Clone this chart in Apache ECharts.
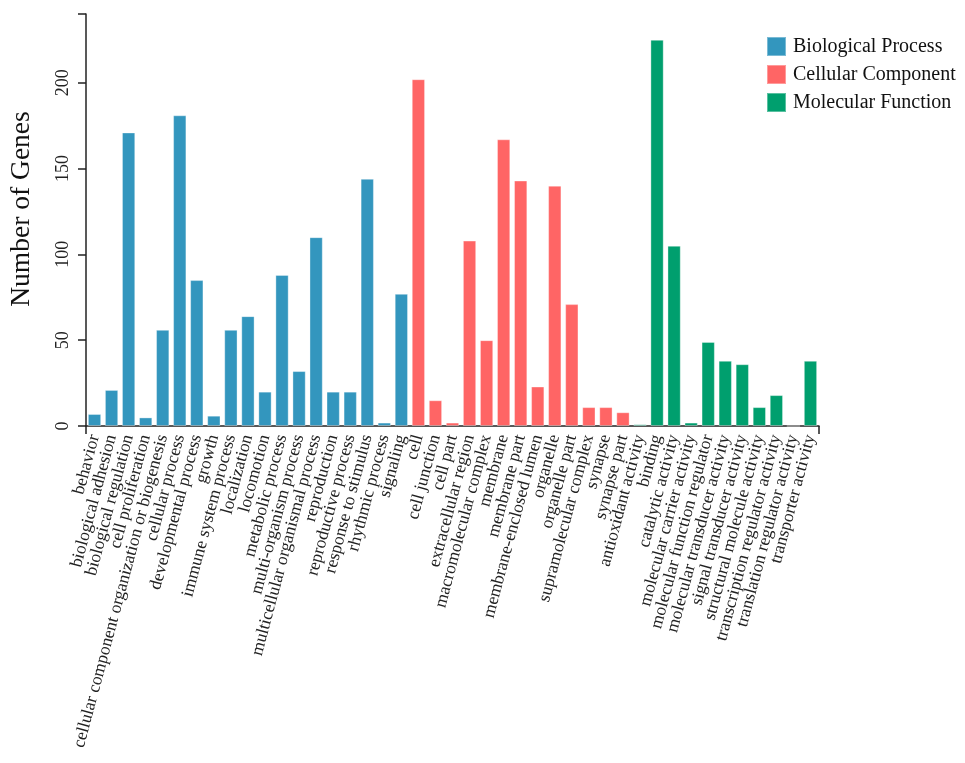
<!DOCTYPE html>
<html>
<head>
<meta charset="utf-8">
<script src="https://cdn.jsdelivr.net/npm/echarts@6/dist/echarts.min.js"></script>
<style>
html,body{margin:0;padding:0;background:#fff;}
#chart{width:965px;height:763px;}
</style>
</head>
<body>
<div id="chart"></div>
<script>
const bpCategories = ["behavior","biological adhesion","biological regulation","cell proliferation","cellular component organization or biogenesis","cellular process","developmental process","growth","immune system process","localization","locomotion","metabolic process","multi-organism process","multicellular organismal process","reproduction","reproductive process","response to stimulus","rhythmic process","signaling"];
const bpValues = [7,21,171,5,56,181,85,6,56,64,20,88,32,110,20,20,144,2,77];
const ccCategories = ["cell","cell junction","cell part","extracellular region","macromolecular complex","membrane","membrane part","membrane-enclosed lumen","organelle","organelle part","supramolecular complex","synapse","synapse part"];
const ccValues = [202,15,2,108,50,167,143,23,140,71,11,11,8];
const mfCategories = ["antioxidant activity","binding","catalytic activity","molecular carrier activity","molecular function regulator","molecular transducer activity","signal transducer activity","structural molecule activity","transcription regulator activity","translation regulator activity","transporter activity"];
const mfValues = [1,225,105,2,49,38,36,11,18,0,38];
const seriesNames = ["Biological Process","Cellular Component","Molecular Function"];
const yTicks = [0,50,100,150,200];

const colors = ["#3396BE","#FF6565","#009F6E"];
const categories = bpCategories.concat(ccCategories, mfCategories);
const groups = [bpValues, ccValues, mfValues];
let offset = 0;
const series = groups.map((vals, gi) => {
  const data = categories.map(() => '-');
  vals.forEach((v, i) => { data[offset + i] = v; });
  offset += vals.length;
  return {
    name: seriesNames[gi],
    type: 'bar',
    stack: 'go',
    barWidth: '78%',
    data: data,
    itemStyle: {color: colors[gi], borderColor: 'rgba(255,255,255,0.35)', borderWidth: 1}
  };
});

const font = 'Liberation Serif';
const axisColor = '#222';
const chart = echarts.init(document.getElementById('chart'));
chart.setOption({
  animation: false,
  textStyle: {fontFamily: font},
  grid: {left: 86, right: 146, top: 14, bottom: 337},
  legend: {
    orient: 'vertical', left: 761, top: 31,
    itemWidth: 19, itemHeight: 19, itemGap: 7,
    icon: 'rect',
    textStyle: {fontFamily: font, fontSize: 20, color: '#111', padding: [0, 0, 0, 2]},
    data: seriesNames
  },
  xAxis: [{
    type: 'category',
    data: categories,
    axisLine: {lineStyle: {color: axisColor, width: 1.5}},
    axisTick: {alignWithLabel: true, length: 8, lineStyle: {color: axisColor, width: 1.5}},
    axisLabel: {rotate: 75, interval: 0, fontFamily: font, fontSize: 17.5, color: axisColor, margin: 9}
  }, {
    type: 'value', position: 'bottom', min: 0, max: 1, interval: 1,
    axisLine: {show: false},
    axisTick: {show: true, length: 8, lineStyle: {color: axisColor, width: 1.5}},
    axisLabel: {show: false},
    splitLine: {show: false}
  }],
  yAxis: [{
    type: 'value',
    min: 0, max: 240, interval: 50,
    name: 'Number of Genes',
    nameLocation: 'middle',
    nameGap: 50,
    nameTextStyle: {fontFamily: font, fontSize: 27.5, color: '#111', padding: [0, 0, 0, 22]},
    splitLine: {show: false},
    axisLine: {show: true, lineStyle: {color: axisColor, width: 1.5}},
    axisTick: {show: true, length: 8, lineStyle: {color: axisColor, width: 1.5}},
    axisLabel: {
      rotate: 90, fontFamily: font, fontSize: 18, color: axisColor, margin: 14,
      showMaxLabel: false,
      formatter: v => yTicks.indexOf(v) >= 0 ? String(v) : ''
    }
  }, {
    type: 'value', position: 'left', min: 0, max: 240, interval: 240,
    axisLine: {show: false},
    axisTick: {show: true, length: 8, lineStyle: {color: axisColor, width: 1.5}},
    axisLabel: {show: false},
    splitLine: {show: false}
  }],
  series: series
});
</script>
</body>
</html>
